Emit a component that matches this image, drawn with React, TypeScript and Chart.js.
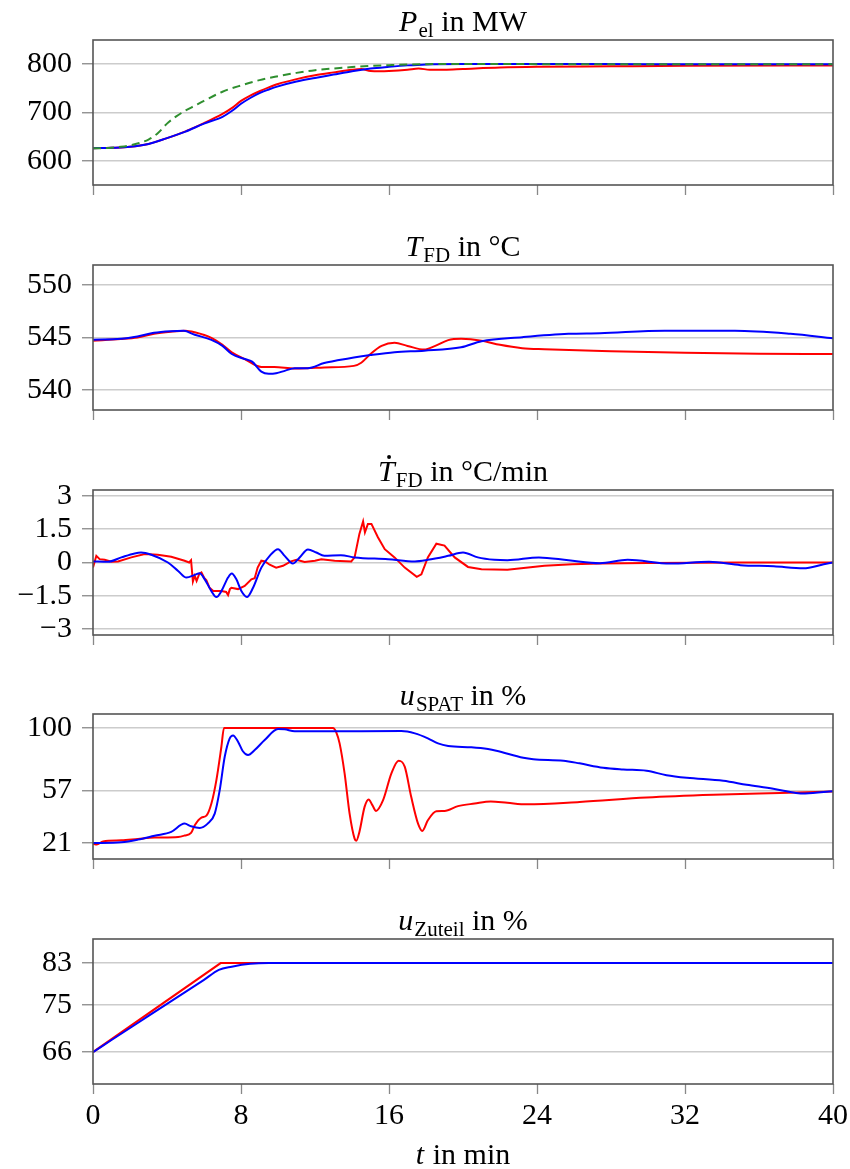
import React, { useEffect, useRef } from "react";
import { Chart, registerables } from "chart.js";

Chart.register(...registerables);

const SERIF = '"Liberation Serif", "Times New Roman", serif';
const TEXT_SIZE = 30;

const RED = "#ff0000";
const BLUE = "#0000ff";
const GREEN = "#2f8f2f";

// Shared time axis (minutes)
const X_TICKS = [0, 8, 16, 24, 32, 40];

// ---- P_el in MW ----
const pelRedT = [0, 1, 2, 3, 4, 5, 6, 7, 7.5, 8, 8.5, 9, 9.5, 10, 11, 12, 13, 14, 14.5, 15, 15.5, 16, 17, 17.6, 18.2, 19, 20, 22, 24, 28, 32, 40];
const pelRedV = [626, 627, 629, 635, 647, 661, 678, 697, 709, 724, 735, 744, 752, 759, 769, 777, 783, 788.5, 790, 786, 785.5, 786, 788.5, 791, 788.5, 788.5, 790, 793, 794.5, 795.5, 796.5, 797.5];
const pelBlueT = [0, 1, 2, 3, 4, 5, 6, 7, 7.5, 8, 8.5, 9, 9.5, 10, 11, 12, 13, 14, 15, 16, 17, 18, 20, 25, 30, 40];
const pelBlueV = [626, 627, 629, 635, 647, 660.5, 677, 691, 703, 718, 730, 740, 747.5, 754, 764, 771.5, 778.5, 785.5, 791, 794.5, 797.5, 799.5, 800.5, 800.5, 800, 800];
const pelRefT = [0, 1, 1.5, 2, 2.5, 3, 3.5, 4, 4.5, 5, 5.5, 6, 7, 8, 9, 10, 11, 12, 13, 14, 15, 16, 17, 18, 20, 25, 30, 40];
const pelRefV = [626, 627, 629, 632, 637, 644, 657, 677, 692, 704, 714, 724, 743, 756, 767, 775, 782, 787.5, 791, 794, 796.5, 798, 799.3, 800, 800.5, 800, 800, 800];
const pelTicks = [600, 700, 800];

// ---- T_FD in °C ----
const tfdRedT = [0, 1.5, 2.4, 3.3, 4.2, 5, 5.5, 6.4, 7, 7.5, 8.2, 9.1, 9.8, 10.9, 11.6, 12.5, 14.1, 14.5, 15, 15.6, 16.3, 17, 17.9, 18.5, 19.2, 19.9, 21, 22, 23.2, 24.4, 28, 32, 36, 40];
const tfdRedV = [544.7, 544.85, 545.0, 545.35, 545.55, 545.65, 545.5, 544.97, 544.3, 543.59, 542.95, 542.2, 542.2, 542.05, 542.08, 542.15, 542.3, 542.6, 543.43, 544.2, 544.49, 544.2, 543.85, 544.2, 544.75, 544.87, 544.7, 544.3, 543.98, 543.88, 543.7, 543.55, 543.45, 543.43];
const tfdBlueT = [0, 1.5, 2.4, 3.3, 4.2, 4.9, 5.5, 6.4, 7, 7.5, 8.2, 8.6, 9.1, 9.5, 9.9, 10.4, 10.9, 11.6, 12.5, 13.3, 14.1, 15, 16.3, 17.9, 19.9, 21, 23.2, 25.7, 27.4, 30.9, 34.7, 37.7, 40];
const tfdBlueV = [544.78, 544.87, 545.1, 545.45, 545.6, 545.64, 545.26, 544.78, 544.2, 543.43, 542.95, 542.7, 541.75, 541.55, 541.6, 541.85, 542.08, 542.08, 542.57, 542.85, 543.1, 543.33, 543.6, 543.75, 544.07, 544.65, 545.03, 545.35, 545.41, 545.64, 545.64, 545.35, 544.93];
const tfdTicks = [540, 545, 550];

// ---- dT_FD/dt in °C/min ----
const rateRedT = [0, 0.18, 0.36, 0.63, 1, 1.35, 2.07, 2.8, 3.5, 4.23, 4.95, 5.2, 5.3, 5.4, 5.5, 5.6, 5.75, 5.86, 6, 6.13, 6.3, 6.5, 6.94, 7.2, 7.3, 7.4, 7.48, 7.84, 8.2, 8.56, 8.74, 8.9, 9.1, 9.3, 9.55, 9.9, 10.27, 10.7, 11, 11.44, 12, 12.34, 13.06, 13.96, 14.14, 14.4, 14.6, 14.7, 14.86, 15.05, 15.4, 15.77, 16.3, 16.85, 17.5, 17.75, 18.1, 18.56, 19, 19.55, 20.27, 21, 22.4, 24.4, 25.9, 27.4, 30, 35, 40];
const rateRedV = [-0.23, 0.3, 0.15, 0.12, 0.03, 0.05, 0.23, 0.38, 0.35, 0.26, 0.08, 0, 0.1, -0.86, -0.6, -0.83, -0.5, -0.45, -0.68, -0.8, -1.14, -1.29, -1.29, -1.33, -1.47, -1.2, -1.14, -1.2, -1.06, -0.76, -0.71, -0.23, 0.08, 0.05, -0.1, -0.23, -0.15, 0.05, 0.12, 0.02, 0.08, 0.15, 0.08, 0.05, 0.23, 1.29, 1.85, 1.36, 1.74, 1.74, 1.14, 0.6, 0.23, -0.23, -0.65, -0.53, 0.23, 0.85, 0.76, 0.23, -0.2, -0.3, -0.33, -0.15, -0.08, -0.05, -0.02, 0, 0];
const rateBlueT = [0, 0.8, 1.53, 2.25, 2.6, 3.15, 4.05, 4.6, 5.05, 5.5, 5.77, 6.04, 6.4, 6.67, 6.94, 7.3, 7.5, 7.75, 8.02, 8.32, 8.65, 9.1, 9.55, 10, 10.36, 10.8, 11.17, 11.62, 12.07, 12.5, 13.4, 14.14, 15.95, 17.4, 18.1, 19.2, 20, 20.8, 21.7, 22.4, 24.1, 25.7, 27.4, 28.9, 31.2, 33.3, 35, 36.8, 38.4, 39.5, 40];
const rateBlueV = [0.05, 0.03, 0.23, 0.41, 0.45, 0.35, 0, -0.38, -0.68, -0.56, -0.48, -0.76, -1.29, -1.56, -1.29, -0.68, -0.5, -0.76, -1.29, -1.56, -1.14, -0.23, 0.3, 0.6, 0.3, -0.05, 0.23, 0.59, 0.45, 0.3, 0.33, 0.23, 0.15, 0.05, 0.12, 0.3, 0.45, 0.23, 0.12, 0.1, 0.23, 0.1, -0.03, 0.12, -0.05, 0.03, -0.12, -0.17, -0.26, -0.08, 0];
const rateTicks = [-3, -1.5, 0, 1.5, 3];
const rateTickLabels = ["\u22123", "\u22121.5", "0", "1.5", "3"];

// ---- u_SPAT in % ----
const spatRedT = [0, 0.2, 0.54, 1.53, 2.43, 3.33, 4.6, 4.95, 5.3, 5.5, 5.86, 6.13, 6.4, 6.67, 6.94, 7.08, 12.97, 13.15, 13.33, 13.6, 13.87, 14.14, 14.23, 14.4, 14.68, 14.9, 15.1, 15.3, 15.68, 16.13, 16.52, 16.85, 17.2, 17.57, 17.8, 18.1, 18.56, 19, 19.73, 20.63, 21.5, 22.4, 23.44, 26.3, 29.92, 33.53, 37.14, 40];
const spatRedV = [20.5, 19.9, 22.1, 22.8, 23.8, 24.7, 25.1, 26.1, 27.9, 33.2, 38.5, 39.8, 48.1, 64.2, 87.1, 100, 100, 97, 89.4, 68.8, 41.2, 24, 22.5, 28.6, 45.8, 50.9, 47, 43, 50.4, 68.8, 77.5, 73.4, 52.7, 34.3, 29.3, 36.6, 42.8, 43, 46.3, 48.1, 49.5, 48.6, 47.6, 49.2, 52.2, 54.1, 55.4, 56.4];
const spatBlueT = [0, 1.53, 2.43, 3.33, 4.23, 4.95, 5.3, 5.77, 6.2, 6.58, 6.85, 7.12, 7.39, 7.57, 7.84, 8.1, 8.38, 8.74, 9.28, 10, 10.36, 10.9, 12.34, 16.67, 17.4, 18.1, 18.65, 19.2, 20.45, 21.35, 21.8, 23.26, 23.8, 25.43, 26.3, 27.58, 28.66, 29.92, 31, 32.1, 34.07, 35.33, 36.77, 38, 38.5, 40];
const spatBlueV = [21, 21.5, 23.3, 26, 28.6, 34.3, 32.5, 31.3, 34.3, 41.2, 57.3, 80.2, 92.9, 94.9, 90.6, 84, 81.4, 84.8, 91.7, 99.3, 99.1, 97.7, 97.7, 97.9, 96.3, 92.9, 89.4, 87.6, 86.7, 85.5, 84.4, 79.6, 78.6, 77.5, 75.7, 72.7, 71.5, 70.6, 67.6, 65.8, 63.7, 61, 58.2, 55.4, 55, 56.6];
const spatTicks = [21, 57, 100];

// ---- u_Zuteil in % ----
const zutRedT = [0, 6.9, 40];
const zutRedV = [66, 83, 83];
const zutBlueT = [0, 1, 2, 3, 4, 5, 6, 6.8, 7.5, 8.5, 9.5, 40];
const zutBlueV = [66, 68.3, 70.6, 72.9, 75.2, 77.5, 79.8, 81.7, 82.3, 82.85, 83, 83];
const zutTicks = [66, 75, 83];

type Seg = { t: string; italic?: boolean; sub?: boolean; dot?: boolean };
type Series = { t: number[]; v: number[]; color: string; dash?: number[]; smooth: boolean; order: number };
type PanelSpec = {
  title: Seg[];
  yMin: number;
  yMax: number;
  yTicks: number[];
  yLabels?: string[];
  series: Series[];
};

const PANELS: PanelSpec[] = [
  {
    title: [{ t: "P", italic: true }, { t: "el", sub: true }, { t: " in MW" }],
    yMin: 550,
    yMax: 850,
    yTicks: pelTicks,
    series: [
      { t: pelRefT, v: pelRefV, color: GREEN, dash: [8, 5], smooth: true, order: 0 },
      { t: pelBlueT, v: pelBlueV, color: BLUE, smooth: true, order: 1 },
      { t: pelRedT, v: pelRedV, color: RED, smooth: true, order: 2 },
    ],
  },
  {
    title: [{ t: "T", italic: true }, { t: "FD", sub: true }, { t: " in \u00b0C" }],
    yMin: 538.1,
    yMax: 551.9,
    yTicks: tfdTicks,
    series: [
      { t: tfdBlueT, v: tfdBlueV, color: BLUE, smooth: true, order: 1 },
      { t: tfdRedT, v: tfdRedV, color: RED, smooth: true, order: 2 },
    ],
  },
  {
    title: [{ t: "T", italic: true, dot: true }, { t: "FD", sub: true }, { t: " in \u00b0C/min" }],
    yMin: -3.27,
    yMax: 3.27,
    yTicks: rateTicks,
    yLabels: rateTickLabels,
    series: [
      { t: rateBlueT, v: rateBlueV, color: BLUE, smooth: true, order: 1 },
      { t: rateRedT, v: rateRedV, color: RED, smooth: false, order: 2 },
    ],
  },
  {
    title: [{ t: "u", italic: true }, { t: "SPAT", sub: true }, { t: " in %" }],
    yMin: 10,
    yMax: 109.6,
    yTicks: spatTicks,
    series: [
      { t: spatBlueT, v: spatBlueV, color: BLUE, smooth: true, order: 1 },
      { t: spatRedT, v: spatRedV, color: RED, smooth: true, order: 2 },
    ],
  },
  {
    title: [{ t: "u", italic: true }, { t: "Zuteil", sub: true }, { t: " in %" }],
    yMin: 59.9,
    yMax: 87.6,
    yTicks: zutTicks,
    series: [
      { t: zutBlueT, v: zutBlueV, color: BLUE, smooth: true, order: 1 },
      { t: zutRedT, v: zutRedV, color: RED, smooth: false, order: 2 },
    ],
  },
];

const X_TITLE: Seg[] = [{ t: "t", italic: true }, { t: " in min" }];

// Page geometry
const PAGE_W = 850;
const PAGE_H = 1169;
const PLOT_TOPS = [40, 265, 490, 714, 939];
const PLOT_H = 145;
const PAD_TOP = 40;
const PANEL_H = 225;
const AXIS_LEFT = 93;
const AXIS_RIGHT_PAD = 17;

function segFont(s: Seg, size: number) {
  const px = s.sub ? size * 0.7 : size;
  return `${s.italic ? "italic " : ""}${px}px ${SERIF}`;
}

function drawRich(ctx: CanvasRenderingContext2D, segs: Seg[], cx: number, baseline: number, size: number) {
  ctx.save();
  ctx.fillStyle = "#000";
  ctx.textBaseline = "alphabetic";
  ctx.textAlign = "left";
  const widths = segs.map((s) => {
    ctx.font = segFont(s, size);
    return ctx.measureText(s.t).width + (s.italic ? size * 0.04 : 0);
  });
  const total = widths.reduce((a, b) => a + b, 0);
  let x = cx - total / 2;
  segs.forEach((s, i) => {
    ctx.font = segFont(s, size);
    const y = s.sub ? baseline + size * 0.2 : baseline;
    ctx.fillText(s.t, x, y);
    if (s.dot) {
      ctx.beginPath();
      ctx.arc(x + widths[i] * 0.62, baseline - size * 0.8, size * 0.065, 0, Math.PI * 2);
      ctx.fill();
    }
    x += widths[i];
  });
  ctx.restore();
}

function buildConfig(spec: PanelSpec, last: boolean, canvasH: number): any {
  const font = { family: SERIF, size: TEXT_SIZE };
  const xAxisH = canvasH - PAD_TOP - PLOT_H;
  const datasets = spec.series.map((s) => ({
    data: s.t.map((x, i) => ({ x, y: s.v[i] })),
    borderColor: s.color,
    backgroundColor: s.color,
    borderWidth: 2,
    borderDash: s.dash ?? [],
    pointRadius: 0,
    pointHoverRadius: 0,
    fill: false,
    cubicInterpolationMode: s.smooth ? "monotone" : "default",
    tension: 0,
    order: s.order,
  }));

  const framePlugin = {
    id: "frame",
    afterDatasetsDraw(chart: any) {
      const { ctx, chartArea } = chart;
      ctx.save();
      ctx.strokeStyle = "#555";
      ctx.lineWidth = 1.6;
      ctx.strokeRect(chartArea.left, chartArea.top, chartArea.right - chartArea.left, chartArea.bottom - chartArea.top);
      ctx.restore();
    },
  };

  const titlePlugin = {
    id: "richTitle",
    afterDraw(chart: any) {
      const { ctx, chartArea } = chart;
      const cx = (chartArea.left + chartArea.right) / 2;
      drawRich(ctx, spec.title, cx, chartArea.top - 9, TEXT_SIZE);
      if (last) drawRich(ctx, X_TITLE, cx, chartArea.bottom + 80, TEXT_SIZE);
    },
  };

  return {
    type: "line",
    data: { datasets },
    plugins: [framePlugin, titlePlugin],
    options: {
      animation: false,
      responsive: false,
      devicePixelRatio: 1,
      events: [],
      layout: { padding: { top: PAD_TOP, left: 0, right: AXIS_RIGHT_PAD, bottom: 0 } },
      plugins: { legend: { display: false }, tooltip: { enabled: false }, title: { display: false } },
      scales: {
        x: {
          type: "linear",
          min: 0,
          max: 40,
          afterBuildTicks: (scale: any) => {
            scale.ticks = X_TICKS.map((value) => ({ value }));
          },
          afterFit: (scale: any) => {
            // keep the plot box at the same width in every panel
            scale.height = xAxisH;
            scale.paddingLeft = 0;
            scale.paddingRight = 0;
          },
          ticks: {
            display: last,
            font,
            color: "#000",
            padding: 4,
            maxRotation: 0,
            autoSkip: false,
            callback: (v: number) => String(v),
          },
          grid: {
            drawOnChartArea: false,
            drawTicks: true,
            tickLength: 10,
            tickColor: "#888",
            tickWidth: 1.3,
          },
          border: { display: false },
        },
        y: {
          type: "linear",
          min: spec.yMin,
          max: spec.yMax,
          afterBuildTicks: (scale: any) => {
            scale.ticks = spec.yTicks.map((value) => ({ value }));
          },
          afterFit: (scale: any) => {
            scale.width = AXIS_LEFT;
            scale.paddingTop = 0;
            scale.paddingBottom = 0;
          },
          ticks: {
            font,
            color: "#000",
            padding: 10,
            autoSkip: false,
            callback: (v: number, i: number) => (spec.yLabels ? spec.yLabels[i] : String(v)),
          },
          grid: {
            color: "#cccccc",
            lineWidth: 1.5,
            drawTicks: true,
            tickLength: 11,
            tickColor: "#888",
            tickWidth: 1.3,
          },
          border: { display: false },
        },
      },
    },
  };
}

function Panel({ index }: { index: number }) {
  const ref = useRef<HTMLCanvasElement>(null);
  const last = index === PANELS.length - 1;
  const top = PLOT_TOPS[index] - PAD_TOP;
  const height = last ? PAGE_H - top : PANEL_H;

  useEffect(() => {
    const canvas = ref.current;
    if (!canvas) return;
    const chart = new Chart(canvas, buildConfig(PANELS[index], last, height));
    return () => chart.destroy();
  }, [index, last, height]);

  return (
    <canvas
      ref={ref}
      width={PAGE_W}
      height={height}
      style={{ position: "absolute", left: 0, top, width: PAGE_W, height, display: "block" }}
    />
  );
}

export default function App() {
  return (
    <div style={{ position: "absolute", left: 0, top: 0, width: PAGE_W, height: PAGE_H, background: "#fff" }}>
      {PANELS.map((_, i) => (
        <Panel key={i} index={i} />
      ))}
    </div>
  );
}
